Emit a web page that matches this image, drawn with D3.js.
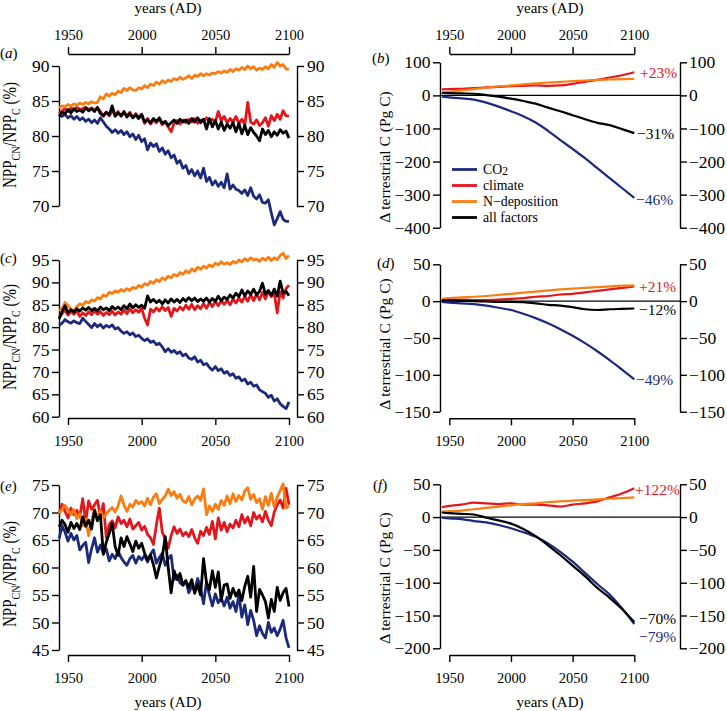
<!DOCTYPE html>
<html><head><meta charset="utf-8">
<script src="https://cdn.jsdelivr.net/npm/d3@7"></script>
<style>
body{margin:0;background:#fff;}
svg{display:block;}
</style></head><body>
<svg id="chart" width="727" height="711"></svg>
<script>
// ---------------- DATA ----------------
const seriesNames = ["CO2", "climate", "N\u2212deposition", "all factors"];
const seriesColors = ["#1b2a7c", "#e3161c", "#fb7d12", "#000000"];
const yearTicks = [1950, 2000, 2050, 2100];

// noisy NPP ratio series: years 1944..2100 every 2 years (79 values)
const yearsNoisy = d3.range(1944, 2101, 2);
// smooth carbon series
const yearsSmooth = [1944, 1950, 1960, 1970, 1980, 1990, 2000, 2010, 2020, 2030, 2040, 2050, 2060, 2070, 2080, 2090, 2100];

// panel (a)
const a_co2 = [
  83.0, 82.8, 83.1, 82.6, 82.9, 82.4, 82.8, 82.3, 82.6, 82.1,
  82.4, 81.9, 82.3, 81.8, 82.6, 82.0, 81.4, 81.0, 80.5, 80.9,
  80.4, 80.8, 80.2, 80.6, 79.9, 80.3, 79.5, 80.1, 79.2, 79.6,
  78.0, 79.0, 78.5, 78.9, 77.8, 78.3, 77.4, 77.9, 76.9, 77.3,
  76.1, 76.5, 75.4, 75.8, 74.6, 75.2, 74.3, 75.0, 74.0, 75.4,
  73.5, 74.1, 73.0, 73.6, 72.8, 73.4, 72.6, 74.6, 72.4, 73.0,
  72.4, 72.2, 71.8, 72.3, 71.5, 72.6, 71.4, 71.0, 71.6, 70.5,
  70.4, 70.9, 69.0, 67.3, 68.2, 69.2, 68.1, 67.8, 67.8];
const a_climate = [
  83.2, 83.6, 83.9, 83.5, 84.0, 83.7, 84.1, 83.8, 83.9, 84.1,
  83.8, 84.0, 83.7, 84.0, 83.5, 82.8, 83.4, 82.9, 83.6, 83.0,
  83.5, 82.8, 83.3, 82.9, 83.4, 82.6, 83.2, 82.7, 83.0, 81.8,
  82.5, 81.7, 82.3, 81.9, 82.4, 81.6, 82.0, 81.3, 80.6, 81.8,
  82.2, 81.7, 82.3, 81.9, 82.4, 82.0, 82.5, 81.8, 82.3, 82.1,
  82.6, 81.9, 82.4, 82.0, 83.5, 82.2, 82.8, 81.9, 82.5, 82.0,
  82.8, 81.8, 82.4, 81.6, 84.8, 82.0, 81.7, 82.3, 81.5, 81.9,
  82.6, 81.4, 82.9, 82.2, 83.1, 82.4, 83.6, 82.9, 82.8];
const a_ndep = [
  84.0, 84.3, 84.2, 84.5, 84.3, 84.6, 84.4, 84.7, 84.5, 84.8,
  84.6, 84.9, 84.7, 84.8, 85.6, 85.3, 86.0, 85.7, 86.1, 85.9,
  86.4, 86.2, 86.8, 86.5, 86.9, 86.6, 86.5, 86.9, 86.7, 87.2,
  86.9, 87.4, 87.2, 87.7, 87.4, 87.9, 87.6, 88.0, 87.8, 88.2,
  88.0, 88.4, 88.1, 88.3, 88.6, 88.2, 88.7, 88.5, 88.9, 88.6,
  88.9, 88.7, 89.0, 88.9, 89.2, 89.0, 89.3, 89.1, 89.5, 89.2,
  89.6, 89.4, 89.8, 89.5, 90.0, 89.6, 89.9, 89.4, 89.7, 89.5,
  89.9, 89.6, 90.2, 89.8, 90.5, 90.0, 90.2, 89.6, 89.5];
const a_all = [
  82.8, 83.4, 83.2, 83.8, 83.3, 83.9, 83.5, 83.7, 83.4, 84.0,
  83.6, 83.9, 83.5, 84.1, 83.2, 82.9, 83.4, 83.0, 84.3, 82.8,
  83.3, 82.9, 83.5, 82.7, 83.2, 82.6, 83.0, 82.5, 83.1, 82.0,
  82.3, 81.9, 82.5, 82.1, 82.6, 81.8, 82.1, 81.5, 81.9, 82.3,
  81.8, 82.4, 82.0, 82.3, 81.8, 82.5, 82.0, 82.6, 81.9, 82.4,
  81.0, 82.5, 81.3, 82.2, 81.0, 82.0, 80.8, 81.7, 81.1, 81.9,
  80.6, 81.8, 80.3, 81.5, 80.2, 81.2, 80.5, 80.0, 79.3, 81.0,
  80.2, 80.8, 79.9, 80.6, 80.1, 80.9, 80.4, 80.7, 79.7];

// panel (c)
const c_co2 = [
  80.4, 80.9, 81.7, 81.2, 80.9, 81.4, 81.0, 80.8, 82.0, 81.3,
  80.6, 79.9, 80.8, 80.1, 80.6, 79.8, 80.4, 80.0, 80.5, 79.6,
  79.9, 79.1, 78.6, 79.0, 78.3, 78.7, 77.9, 78.2, 77.5, 77.0,
  77.4, 76.6, 76.9, 76.1, 76.4, 75.6, 74.5, 75.2, 74.4, 74.8,
  74.1, 74.5, 73.6, 74.0, 73.1, 72.8, 73.4, 72.2, 72.6, 71.6,
  71.9, 71.0, 70.4, 71.2, 70.3, 70.7, 69.7, 70.1, 69.2, 69.6,
  68.6, 68.9, 68.0, 68.4, 67.3, 67.7, 66.8, 67.1, 66.0, 65.6,
  65.2, 64.3, 64.8, 63.5, 64.0, 62.9, 62.3, 61.8, 63.3];
const c_climate = [
  82.3, 83.0, 83.8, 82.7, 83.5, 82.9, 83.6, 82.4, 83.2, 82.6,
  83.4, 82.8, 83.7, 82.9, 83.5, 82.6, 83.3, 82.8, 83.6, 82.7,
  83.4, 82.9, 83.8, 83.0, 84.1, 83.2, 83.9, 83.3, 84.2, 82.0,
  80.5, 84.0, 83.4, 84.3, 83.6, 84.6, 83.7, 84.4, 82.4, 84.2,
  83.6, 84.5, 83.8, 84.9, 84.0, 85.1, 83.9, 84.8, 84.1, 85.3,
  84.2, 85.5, 84.6, 85.8, 84.8, 85.9, 85.1, 86.0, 85.0, 86.3,
  85.4, 86.5, 85.6, 86.9, 85.8, 87.2, 85.9, 87.4, 86.1, 87.8,
  86.3, 88.0, 86.8, 87.6, 83.2, 87.9, 86.5, 88.6, 89.4];
const c_ndep = [
  83.6, 84.2, 85.5, 84.8, 84.0, 83.6, 84.6, 85.2, 84.9, 85.7,
  85.4, 86.1, 85.8, 86.6, 86.3, 87.2, 86.9, 87.8, 87.5, 88.1,
  87.8, 88.4, 88.0, 88.6, 88.2, 88.9, 88.6, 89.3, 88.9, 89.7,
  89.4, 90.2, 89.8, 90.6, 90.2, 91.0, 90.6, 91.4, 91.0, 91.8,
  91.4, 92.2, 91.8, 92.6, 92.1, 93.0, 92.5, 93.4, 92.9, 93.6,
  93.2, 93.9, 93.5, 94.3, 93.9, 94.6, 94.1, 94.4, 94.0, 94.7,
  94.3, 95.0, 94.6, 95.3, 94.8, 95.5, 95.0, 95.2, 94.7, 95.4,
  95.0, 95.6, 94.9, 95.5, 95.1, 96.0, 96.5, 95.3, 96.0];
const c_all = [
  81.8, 83.5, 84.8, 83.2, 83.9, 83.4, 84.1, 83.6, 84.3, 83.8,
  84.4, 83.7, 84.2, 83.6, 84.5, 83.9, 84.3, 83.7, 84.6, 84.0,
  84.5, 83.9, 84.8, 84.1, 85.2, 84.3, 85.0, 84.4, 84.9, 84.2,
  87.0, 85.6, 86.2, 85.5, 86.0, 85.2, 86.1, 85.4, 86.3, 85.6,
  86.2, 85.5, 86.4, 85.8, 86.6, 85.9, 86.5, 85.7, 86.3, 85.8,
  86.5, 85.6, 86.4, 85.8, 86.9, 85.9, 86.7, 86.2, 87.2, 86.5,
  87.6, 86.8, 88.3, 87.0, 88.1, 87.3, 88.5, 87.2, 88.0, 89.8,
  87.4, 88.2, 87.1, 88.5, 86.9, 90.3, 87.6, 88.0, 87.0];

// panel (e)
const e_co2 = [
  65.3, 67.6, 66.4, 64.8, 66.2, 65.0, 65.8, 63.2, 64.0, 64.6,
  60.9, 63.4, 65.4, 62.8, 64.1, 62.6, 63.4, 61.2, 62.4, 61.6,
  63.0, 61.8, 61.0, 60.4, 61.6, 62.2, 60.8, 62.0, 61.4, 62.2,
  61.0, 62.4, 63.2, 60.8, 61.8, 62.6, 60.4, 61.6, 62.2, 57.8,
  58.6, 57.2, 56.8, 57.6, 55.4, 56.6, 55.8, 58.0, 56.2, 53.4,
  57.4, 55.0, 53.0, 55.2, 53.6, 54.4, 53.0, 54.6, 52.6, 53.8,
  52.0, 55.0, 51.0, 53.2, 49.6, 52.2, 50.4, 47.6, 49.4, 48.0,
  47.2, 50.0, 48.2, 49.0, 47.6, 48.8, 50.4, 47.2, 45.4];
const e_climate = [
  69.8, 71.5, 70.2, 69.0, 70.8, 69.6, 70.4, 69.2, 72.5, 68.3,
  72.1, 70.6, 71.4, 72.2, 69.3, 71.6, 65.4, 67.8, 68.5, 67.2,
  69.2, 68.0, 68.6, 67.4, 68.8, 67.0, 67.6, 68.2, 66.8, 67.5,
  66.0, 65.4, 64.2, 67.8, 70.8, 66.4, 65.2, 63.5, 65.8, 67.4,
  66.2, 67.0, 65.8, 66.4, 65.6, 66.9, 65.4, 64.4, 66.6, 65.8,
  67.3, 66.0, 68.4, 65.2, 69.0, 66.8, 68.2, 66.5, 67.9, 67.2,
  68.6, 67.4, 69.6, 68.1, 69.2, 67.6, 70.0, 68.8, 69.5, 68.3,
  70.2, 68.6, 67.6, 70.1, 71.4, 72.3, 70.8, 74.4, 71.4];
const e_ndep = [
  69.8, 70.6, 71.3, 70.4, 69.7, 70.5, 68.9, 69.8, 67.6, 68.8,
  65.8, 68.5, 70.6, 69.2, 70.3, 69.0, 69.8, 70.4, 70.9, 70.1,
  71.2, 73.0, 71.4, 70.2, 71.5, 71.0, 72.2, 71.6, 72.0, 71.2,
  72.6, 71.4, 72.8, 73.4, 71.6, 72.4, 73.0, 74.2, 73.1, 73.8,
  72.6, 73.3, 72.1, 71.8, 72.9, 71.4, 72.5, 73.0, 72.2, 74.3,
  69.6, 71.2, 70.2, 71.5, 70.6, 72.2, 71.3, 73.0, 71.6, 73.4,
  72.0, 73.1, 72.3, 73.9, 74.5, 72.4, 73.3, 71.8, 72.5, 70.6,
  72.9, 71.3, 73.5, 71.0, 72.8, 74.0, 75.2, 70.8, 71.2];
const e_all = [
  67.4, 68.6, 67.8, 66.4, 68.2, 67.1, 68.0, 66.9, 69.2, 67.5,
  68.6, 67.0, 70.4, 68.5, 69.6, 62.4, 64.6, 66.2, 68.0, 63.8,
  62.2, 65.4, 63.8, 65.6, 64.3, 62.9, 64.8, 63.5, 64.4, 62.6,
  61.4, 62.3, 60.5, 58.1, 60.2, 62.0, 65.6, 60.0, 55.4, 59.4,
  57.8, 58.9, 56.8, 57.6, 56.4, 57.8, 55.3, 56.9, 55.0, 61.6,
  57.2, 56.0, 59.4, 56.4, 59.2, 54.0, 56.8, 57.0, 54.4, 56.2,
  54.8, 55.9, 54.0, 56.6, 58.4, 54.6, 60.2, 52.0, 56.0, 55.0,
  53.8, 50.8, 54.2, 52.0, 56.4, 54.0, 55.4, 56.2, 52.9];

// panel (b)  (Pg C)
const b_co2     = [-4, -6, -9, -13, -22, -34, -48, -63, -82, -107, -135, -162, -190, -220, -250, -280, -310];
const b_climate = [18, 19, 20, 22, 24, 26, 28, 29, 30, 29, 30, 35, 41, 47, 54, 61, 70];
const b_ndep    = [8, 11, 15, 19, 23, 27, 30, 33, 36, 39, 41, 43, 45, 47, 48, 49, 50];
const b_all     = [8, 7, 6, 5, 1, -4, -10, -17, -25, -37, -48, -60, -72, -83, -90, -102, -114];
// panel (d)
const d_co2     = [-1, -2, -3, -4, -6, -9, -12, -17, -23, -30, -38, -47, -57, -68, -80, -93, -106];
const d_climate = [2, 2, 2, 1.5, 1.5, 2, 3, 4, 6, 7, 9, 10, 12, 14, 16, 18, 20];
const d_ndep    = [3, 4, 5, 6, 7, 8.5, 10, 11.5, 13, 14.5, 16, 17, 18, 19, 20, 21, 21.5];
const d_all     = [1, 1, 0.5, 0, -0.5, -1, -1, -1.5, -3, -5, -6, -8, -11, -12, -11, -10.5, -10];
// panel (f)
const f_co2     = [-1, -2, -3, -6, -8, -12, -17, -23, -30, -40, -53, -68, -85, -102, -118, -139, -163];
const f_climate = [15, 17, 19, 22, 21, 20, 21, 19, 19, 18, 16, 19, 21, 24, 30, 36, 44];
const f_ndep    = [8, 9, 10, 12, 14, 16, 18, 20, 21, 23, 24, 25, 26, 27, 28, 29, 30];
const f_all     = [7, 6, 5, 4, -1, -5, -10, -18, -29, -43, -58, -74, -90, -108, -123, -140, -160];

const ticksA = [70, 75, 80, 85, 90];
const ticksB = [-400, -300, -200, -100, 0, 100];
const ticksC = [60, 65, 70, 75, 80, 85, 90, 95];
const ticksD = [-150, -100, -50, 0, 50];
const ticksE = [45, 50, 55, 60, 65, 70, 75];
const ticksF = [-200, -150, -100, -50, 0, 50];

const pctB = ["+23%", "\u221231%", "\u221246%"];
const pctD = ["+21%", "\u221212%", "\u221249%"];
const pctF = ["+122%", "\u221270%", "\u221279%"];

// ---------------- LAYOUT ----------------
const FONT = '"Liberation Serif","Times New Roman",serif';
const svg = d3.select("#chart");

const cols = [
  {x1950: 68, x2100: 289, axL: 59, axR: 297, padR: 3},
  {x1950: 449.3, x2100: 634.3, axL: 440, axR: 680, padR: 2}
];

const panels = [
  {tag: "a", col: 0, years: yearsNoisy, data: [a_co2, a_climate, a_ndep, a_all], ticks: ticksA, px: [206, 66], xAxis: "top", axY: 54, tagY: 57.5, tagX: 0, lw: 2.8},
  {tag: "b", col: 1, years: yearsSmooth, data: [b_co2, b_climate, b_ndep, b_all], ticks: ticksB, px: [227.7, 62.3], xAxis: "top", axY: 54, tagY: 62.5, tagX: 372, lw: 2.2, pct: pctB, pctY: [73, 134, 200], pctX: [640, 637, 636]},
  {tag: "c", col: 0, years: yearsNoisy, data: [c_co2, c_climate, c_ndep, c_all], ticks: ticksC, px: [416.7, 260], xAxis: "bottom", axY: 418, tagY: 263, tagX: 0, lw: 2.8},
  {tag: "d", col: 1, years: yearsSmooth, data: [d_co2, d_climate, d_ndep, d_all], ticks: ticksD, px: [411.7, 264.3], xAxis: "bottom", axY: 418.3, tagY: 267.5, tagX: 377, lw: 2.2, pct: pctD, pctY: [286.7, 310, 380], pctX: [639, 639, 636]},
  {tag: "e", col: 0, years: yearsNoisy, data: [e_co2, e_climate, e_ndep, e_all], ticks: ticksE, px: [650, 485], xAxis: "bottom", axY: 655, tagY: 491, tagX: 0, lw: 2.8},
  {tag: "f", col: 1, years: yearsSmooth, data: [f_co2, f_climate, f_ndep, f_all], ticks: ticksF, px: [648.3, 484.3], xAxis: "bottom", axY: 655, tagY: 490, tagX: 373, lw: 2.2, pct: pctF, pctY: [490, 618.3, 636.7], pctX: [635, 639, 639]}
];

function styleAxis(g, fs) {
  g.attr("font-family", FONT).attr("font-size", fs);
  g.selectAll("path.domain").attr("stroke", "#000").attr("stroke-width", 1.4);
  g.selectAll(".tick line").attr("stroke", "#000").attr("stroke-width", 1.4);
  g.selectAll(".tick text").attr("fill", "#000");
}

const fmt = d3.format("d");

panels.forEach(p => {
  const c = cols[p.col];
  const x = d3.scaleLinear().domain([1950, 2100]).range([c.x1950, c.x2100]);
  const y = d3.scaleLinear().domain([p.ticks[0], p.ticks[p.ticks.length - 1]]).range(p.px);
  const g = svg.append("g");

  if (p.col === 1) {
    g.append("line").attr("x1", c.axL).attr("x2", c.axR)
      .attr("y1", y(0)).attr("y2", y(0))
      .attr("stroke", "#000").attr("stroke-width", 1.1);
  }

  const gl = g.append("g").attr("transform", `translate(${c.axL},0)`)
    .call(d3.axisLeft(y).tickValues(p.ticks).tickFormat(fmt).tickSize(7).tickSizeOuter(0).tickPadding(2.5));
  styleAxis(gl, 17.5);
  const gr = g.append("g").attr("transform", `translate(${c.axR},0)`)
    .call(d3.axisRight(y).tickValues(p.ticks).tickFormat(fmt).tickSize(7).tickSizeOuter(0).tickPadding(c.padR));
  styleAxis(gr, 17.5);
  if (p.xAxis === "top") {
    const gx = g.append("g").attr("transform", `translate(0,${p.axY})`)
      .call(d3.axisTop(x).tickValues(yearTicks).tickFormat(fmt).tickSize(7).tickSizeOuter(0).tickPadding(7));
    styleAxis(gx, 14.5);
  } else {
    const gx = g.append("g").attr("transform", `translate(0,${p.axY})`)
      .call(d3.axisBottom(x).tickValues(yearTicks).tickFormat(fmt).tickSize(7).tickSizeOuter(0).tickPadding(10.5));
    styleAxis(gx, 14.5);
  }

  const line = d3.line()
    .x((d, i) => x(p.years[i]))
    .y(d => y(d))
    .curve(p.col === 1 ? d3.curveMonotoneX : d3.curveLinear);
  p.data.forEach((arr, k) => {
    g.append("path").attr("d", line(arr))
      .attr("fill", "none").attr("stroke", seriesColors[k])
      .attr("stroke-width", p.lw).attr("stroke-linejoin", "round").attr("stroke-linecap", "butt");
  });

  if (p.pct) {
    const pctColors = [seriesColors[1], seriesColors[3], seriesColors[0]];
    p.pct.forEach((t, k) => {
      g.append("text").attr("x", p.pctX[k]).attr("y", p.pctY[k]).attr("dy", "0.35em")
        .attr("font-family", FONT).attr("font-size", 15.5).attr("fill", pctColors[k]).text(t);
    });
  }

  const tg = g.append("text").attr("x", p.tagX).attr("y", p.tagY)
    .attr("font-family", FONT).attr("font-size", 15);
  tg.append("tspan").text("(");
  tg.append("tspan").attr("font-style", "italic").text(p.tag);
  tg.append("tspan").text(")");
});

// y-axis titles (left column)
[135, 337, 574].forEach(cy => {
  const t = svg.append("text")
    .attr("transform", `translate(16,${cy}) rotate(-90)`)
    .attr("text-anchor", "middle").attr("font-family", FONT).attr("font-size", 18)
    .attr("textLength", 106).attr("lengthAdjust", "spacingAndGlyphs");
  t.append("tspan").text("NPP");
  t.append("tspan").attr("font-size", 12).attr("dy", 4).text("CN");
  t.append("tspan").attr("dy", -4).text("/NPP");
  t.append("tspan").attr("font-size", 12).attr("dy", 4).text("C");
  t.append("tspan").attr("dy", -4).text(" (%)");
});
// y-axis titles (right column)
[157, 344, 578].forEach(cy => {
  svg.append("text")
    .attr("transform", `translate(390,${cy}) rotate(-90)`)
    .attr("text-anchor", "middle").attr("font-family", FONT).attr("font-size", 15.5)
    .text("\u0394 terrestrial C (Pg C)");
});

// x titles
[[168, 13], [550, 13], [168, 707], [550, 707]].forEach(([cx, by]) => {
  svg.append("text").attr("x", cx).attr("y", by).attr("text-anchor", "middle")
    .attr("font-family", FONT).attr("font-size", 15).text("years (AD)");
});

// legend in panel (b)
const legY = [169.5, 185.5, 201.5, 217.5];
seriesNames.forEach((name, k) => {
  svg.append("line").attr("x1", 452).attr("x2", 477).attr("y1", legY[k]).attr("y2", legY[k])
    .attr("stroke", seriesColors[k]).attr("stroke-width", 2.8);
  const t = svg.append("text").attr("x", 483).attr("y", legY[k]).attr("dy", "0.35em")
    .attr("font-family", FONT).attr("font-size", 13.8).attr("fill", "#000");
  if (name === "CO2") {
    t.append("tspan").text("CO");
    t.append("tspan").attr("dy", 1).attr("font-size", 11.5).text("2");
  } else {
    t.text(name);
  }
});
</script>
</body></html>
